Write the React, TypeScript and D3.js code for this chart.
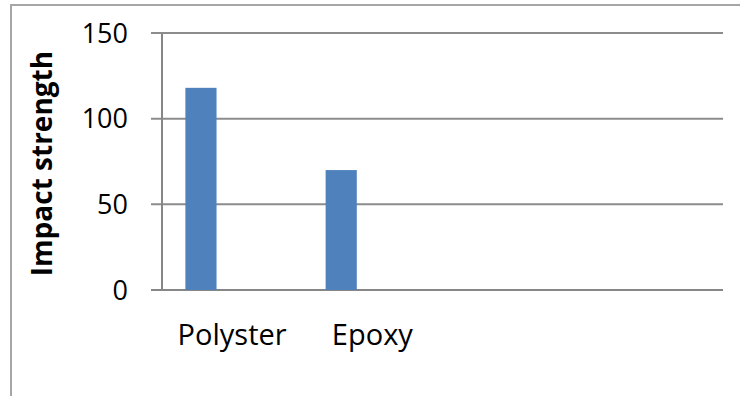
import React from 'react';
import * as d3 from 'd3';

// category labels (the last two slots are empty in the original sheet)
const categories = ['Polyster', 'Epoxy', '', ''];
// three series in the cluster, only the first has values
const seriesNames = ['Series1', 'Series2', 'Series3'];
const series1 = [118, 70, null, null];
const yTicks = [0, 50, 100, 150];

const W = 740;
const H = 396;
const margin = { top: 33, right: 17, bottom: 106, left: 162 };

export default function App() {
  const innerW = W - margin.left - margin.right;
  const innerH = H - margin.top - margin.bottom;

  const x0 = d3
    .scaleBand<number>()
    .domain(categories.map((_, i) => i))
    .range([0, innerW])
    .padding(0);

  const x1 = d3
    .scaleBand<string>()
    .domain(seriesNames)
    .range([0, x0.bandwidth()])
    .paddingInner(0)
    .paddingOuter(0.75);

  const y = d3.scaleLinear().domain([0, 150]).range([innerH, 0]);

  const font = "'Open Sans', 'Liberation Sans', sans-serif";

  return (
    <svg
      width={W}
      height={H}
      style={{ position: 'absolute', left: 0, top: 0, background: '#fff' }}
    >
      {/* outer chart frame */}
      <rect x={11} y={5} width={W} height={H} fill="none" stroke="#a6a6a6" strokeWidth={2} />

      <g transform={`translate(${margin.left},${margin.top})`}>
        {/* gridlines + ticks */}
        {yTicks.map((t) => (
          <g key={t}>
            <line
              x1={-11}
              x2={innerW}
              y1={y(t)}
              y2={y(t)}
              stroke={t === 0 ? '#868686' : '#8c8c8c'}
              strokeWidth={2}
            />
            <text
              x={-34}
              y={y(t)}
              dy="0.36em"
              textAnchor="end"
              fontFamily={font}
              fontSize={27}
              fill="#000"
            >
              {t}
            </text>
          </g>
        ))}

        {/* y axis line */}
        <line x1={0} x2={0} y1={0} y2={innerH} stroke="#868686" strokeWidth={2} />

        {/* bars */}
        {series1.map((v, i) =>
          v == null ? null : (
            <rect
              key={i}
              x={(x0(i) ?? 0) + (x1('Series1') ?? 0)}
              y={y(v)}
              width={x1.bandwidth()}
              height={innerH - y(v)}
              fill="#4f81bd"
            />
          )
        )}

        {/* category labels */}
        {categories.map((c, i) => (
          <text
            key={i}
            x={(x0(i) ?? 0) + x0.bandwidth() / 2}
            y={innerH + 55}
            textAnchor="middle"
            fontFamily={font}
            fontSize={29}
            fill="#000"
          >
            {c}
          </text>
        ))}

        {/* y axis title */}
        <text
          transform={`translate(${-110},${innerH / 2 + 2}) rotate(-90)`}
          textAnchor="middle"
          fontFamily={font}
          fontWeight="bold"
          fontSize={28}
          fill="#000"
        >
          Impact strength
        </text>
      </g>
    </svg>
  );
}
